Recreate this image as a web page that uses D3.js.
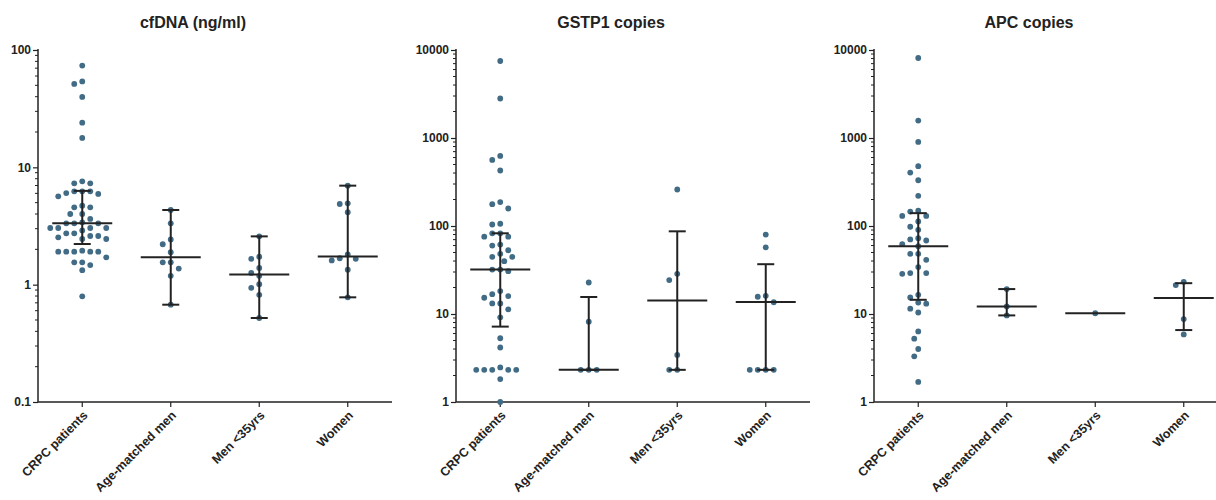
<!DOCTYPE html>
<html>
<head>
<meta charset="utf-8">
<script src="https://cdn.jsdelivr.net/npm/d3@7"></script>
<style>
  body { margin: 0; background: #fff; }
  text { font-family: "Liberation Sans", Arial, sans-serif; font-weight: bold; fill: #222; }
</style>
</head>
<body>
<div id="viz"></div>
<script>
const categories = ["CRPC patients", "Age-matched men", "Men <35yrs", "Women"];

// cfDNA (ng/ml)
const cfdnaCrpc = [73.6, 54, 51.4, 39.8, 24, 17.8, 7.6, 7.3, 7.3, 6.25, 6.25, 6.25, 6.04, 5.93, 5.66,
  4.71, 4.56, 4.56, 4.0, 4.0, 3.63, 3.4, 3.33, 3.33, 3.33, 3.04, 3.04, 3.04, 2.9, 3.04,
  2.74, 2.6, 2.6, 2.74, 2.45, 2.53, 2.45, 1.91, 1.91, 1.91, 1.91, 1.91, 1.95, 1.71,
  1.55, 1.47, 1.55, 1.33, 0.795];
const cfdnaAge = [4.33, 3.33, 2.43, 2.21, 1.89, 1.55, 1.55, 1.37, 1.19, 0.675];
const cfdnaYoung = [2.58, 1.73, 1.66, 1.39, 1.26, 1.19, 1.01, 0.94, 0.82, 0.52];
const cfdnaWomen = [6.98, 4.93, 4.87, 4.14, 1.81, 1.68, 1.66, 1.61, 1.34, 0.78];
const cfdnaMedian = [3.33, 1.71, 1.22, 1.74];
const cfdnaLow = [2.22, 0.675, 0.52, 0.78];
const cfdnaHigh = [6.3, 4.33, 2.58, 6.98];

// GSTP1 copies
const gstpCrpc = [7500, 2810, 626, 564, 427, 187, 177, 158, 106, 104, 82.6, 82.6, 75.7, 75.7,
  61.5, 59.9, 53, 48.2, 44.6, 44.6, 39.8, 32, 32, 30.7, 18.2, 16.8, 16, 15.3, 13.2, 13.2,
  11.3, 9.17, 5.3, 4.16, 2.32, 2.32, 2.32, 2.32, 2.32, 2.47, 1.82, 1.0];
const gstpAge = [22.8, 8.19, 2.32, 2.32, 2.32];
const gstpYoung = [260, 28.6, 24.3, 3.43, 2.32, 2.32];
const gstpWomen = [79.8, 57.3, 16.1, 15.7, 13.6, 2.32, 2.32, 2.32, 2.32];
const gstpMedian = [32, 2.32, 14.2, 13.7];
const gstpLow = [7.19, 2.32, 2.32, 2.32];
const gstpHigh = [82.6, 15.6, 87, 36.8];

// APC copies
const apcCrpc = [8110, 1577, 903, 478, 405, 331, 220, 149, 146, 130, 130, 112.5, 98, 90.5,
  72.8, 70.3, 68.4, 62.2, 59, 48.3, 48.3, 41.3, 34.1, 29.2, 28.6, 29.2, 16.5, 15.4,
  13.5, 13.1, 11.5, 10.4, 6.34, 5.24, 4.0, 3.3, 1.69];
const apcAge = [19.2, 12.2, 9.64];
const apcYoung = [10.2];
const apcWomen = [23.2, 21.3, 8.75, 5.86];
const apcMedian = [59, 12.2, 10.2, 15.2];
const apcLow = [14.5, 9.64, 10.2, 6.57];
const apcHigh = [140, 19.2, 10.2, 22.4];

const cfdnaTicks = [0.1, 1, 10, 100];
const copyTicks = [1, 10, 100, 1000, 10000];

const dotColor = "#426b86";
const lineColor = "#222";

const width = 1216, height = 500;
const plotTop = 50, plotBottom = 402, axisLen = 354;

const svg = d3.select("#viz").append("svg").attr("width", width).attr("height", height);

const panels = [
  { title: "cfDNA (ng/ml)", x0: 38, domain: [0.1, 100], ticks: cfdnaTicks,
    groups: [cfdnaCrpc, cfdnaAge, cfdnaYoung, cfdnaWomen], med: cfdnaMedian, lo: cfdnaLow, hi: cfdnaHigh },
  { title: "GSTP1 copies", x0: 456, domain: [1, 10000], ticks: copyTicks,
    groups: [gstpCrpc, gstpAge, gstpYoung, gstpWomen], med: gstpMedian, lo: gstpLow, hi: gstpHigh },
  { title: "APC copies", x0: 874, domain: [1, 10000], ticks: copyTicks,
    groups: [apcCrpc, apcAge, apcYoung, apcWomen], med: apcMedian, lo: apcLow, hi: apcHigh }
];

// simple beeswarm: place each dot at the nearest free horizontal offset
const swarm = (vals, y, step, minDist) => {
  const pts = vals.map(v => ({ v, y: y(v) })).sort((a, b) => a.y - b.y);
  const placed = [];
  pts.forEach(p => {
    for (let k = 0; k < 60; k++) {
      const off = k === 0 ? 0 : (k % 2 ? -1 : 1) * Math.ceil(k / 2) * step;
      if (placed.every(q => Math.hypot(q.x - off, q.y - p.y) >= minDist)) { p.x = off; break; }
    }
    placed.push(p);
  });
  return placed;
};

panels.forEach(p => {
  const g = svg.append("g").attr("transform", `translate(${p.x0},0)`);
  const x = d3.scaleBand().domain(categories).range([0, axisLen]).padding(0);
  const y = d3.scaleLog().domain(p.domain).range([plotBottom, plotTop]);
  const cx = c => x(c) + x.bandwidth() / 2;

  // title
  g.append("text").attr("x", 155).attr("y", 28).attr("text-anchor", "middle")
    .style("font-size", "16px").text(p.title);

  // minor ticks
  const minor = [];
  for (let d = p.domain[0]; d < p.domain[1] * 0.999; d *= 10) {
    for (let m = 2; m <= 9; m++) minor.push(d * m);
  }
  g.selectAll(".minor").data(minor).join("line")
    .attr("x1", -3).attr("x2", 0).attr("y1", d => y(d)).attr("y2", d => y(d))
    .attr("stroke", lineColor).attr("stroke-width", 1);

  // y axis
  const yAxis = d3.axisLeft(y).tickValues(p.ticks).tickFormat(d3.format("~g")).tickSize(5).tickPadding(2);
  const ya = g.append("g").call(yAxis);
  ya.select(".domain").attr("stroke", lineColor).attr("stroke-width", 1.5).attr("d", `M0,${plotTop - 1}V${plotBottom}`);
  ya.selectAll(".tick line").attr("stroke", lineColor).attr("stroke-width", 1.2);
  ya.selectAll(".tick text").style("font-size", "12px").style("font-family", "Liberation Sans, Arial, sans-serif")
    .style("font-weight", "bold").attr("fill", "#222");

  // x axis
  const xa = g.append("g").attr("transform", `translate(0,${plotBottom})`)
    .call(d3.axisBottom(x).tickSize(5).tickFormat(""));
  xa.select(".domain").attr("stroke", lineColor).attr("stroke-width", 1.5).attr("d", `M0,0H${axisLen}`);
  xa.selectAll(".tick line").attr("stroke", lineColor).attr("stroke-width", 1.2);
  g.selectAll(".xlab").data(categories).join("text")
    .attr("transform", c => `translate(${cx(c) + 3},${plotBottom + 11}) rotate(-45)`)
    .attr("text-anchor", "end").attr("dy", "0.35em")
    .style("font-size", "12.5px").text(c => c);

  // dots
  p.groups.forEach((vals, i) => {
    const c = categories[i];
    const pts = swarm(vals, y, 4, 7.6);
    g.selectAll(null).data(pts).join("circle")
      .attr("cx", d => cx(c) + d.x).attr("cy", d => d.y).attr("r", 2.9)
      .attr("fill", dotColor);
  });

  // median + error bars
  categories.forEach((c, i) => {
    const xc = cx(c);
    if (p.hi[i] !== p.lo[i]) {
      g.append("line").attr("x1", xc).attr("x2", xc).attr("y1", y(p.hi[i])).attr("y2", y(p.lo[i]))
        .attr("stroke", lineColor).attr("stroke-width", 2);
      [p.hi[i], p.lo[i]].forEach(v => {
        g.append("line").attr("x1", xc - 8.5).attr("x2", xc + 8.5).attr("y1", y(v)).attr("y2", y(v))
          .attr("stroke", lineColor).attr("stroke-width", 2);
      });
    }
    g.append("line").attr("x1", xc - 30).attr("x2", xc + 30).attr("y1", y(p.med[i])).attr("y2", y(p.med[i]))
      .attr("stroke", lineColor).attr("stroke-width", 2);
  });
});
</script>
</body>
</html>
